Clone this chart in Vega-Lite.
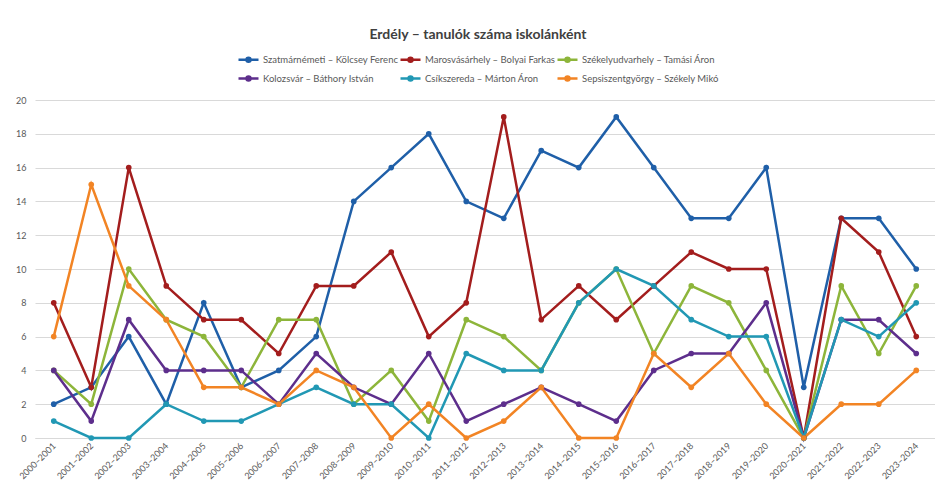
{
  "$schema": "https://vega.github.io/schema/vega-lite/v6.json",
  "autosize": {"type": "none"},
  "width": 900,
  "height": 338,
  "padding": {"left": 35, "top": 100, "right": 0, "bottom": 49},
  "background": "white",
  "config": {
    "font": "Lato",
    "view": {"stroke": null}
  },
  "title": {
    "text": "Erdély – tanulók száma iskolánként",
    "fontSize": 14,
    "fontWeight": "bold",
    "color": "#404040",
    "anchor": "middle",
    "frame": "group",
    "dx": -7,
    "offset": 6
  },
  "data": {
    "values": [
      {"t":"2000–2001","s":"Szatmárnémeti – Kölcsey Ferenc","n":2},
      {"t":"2001–2002","s":"Szatmárnémeti – Kölcsey Ferenc","n":3},
      {"t":"2002–2003","s":"Szatmárnémeti – Kölcsey Ferenc","n":6},
      {"t":"2003–2004","s":"Szatmárnémeti – Kölcsey Ferenc","n":2},
      {"t":"2004–2005","s":"Szatmárnémeti – Kölcsey Ferenc","n":8},
      {"t":"2005–2006","s":"Szatmárnémeti – Kölcsey Ferenc","n":3},
      {"t":"2006–2007","s":"Szatmárnémeti – Kölcsey Ferenc","n":4},
      {"t":"2007–2008","s":"Szatmárnémeti – Kölcsey Ferenc","n":6},
      {"t":"2008–2009","s":"Szatmárnémeti – Kölcsey Ferenc","n":14},
      {"t":"2009–2010","s":"Szatmárnémeti – Kölcsey Ferenc","n":16},
      {"t":"2010–2011","s":"Szatmárnémeti – Kölcsey Ferenc","n":18},
      {"t":"2011–2012","s":"Szatmárnémeti – Kölcsey Ferenc","n":14},
      {"t":"2012–2013","s":"Szatmárnémeti – Kölcsey Ferenc","n":13},
      {"t":"2013–2014","s":"Szatmárnémeti – Kölcsey Ferenc","n":17},
      {"t":"2014–2015","s":"Szatmárnémeti – Kölcsey Ferenc","n":16},
      {"t":"2015–2016","s":"Szatmárnémeti – Kölcsey Ferenc","n":19},
      {"t":"2016–2017","s":"Szatmárnémeti – Kölcsey Ferenc","n":16},
      {"t":"2017–2018","s":"Szatmárnémeti – Kölcsey Ferenc","n":13},
      {"t":"2018–2019","s":"Szatmárnémeti – Kölcsey Ferenc","n":13},
      {"t":"2019–2020","s":"Szatmárnémeti – Kölcsey Ferenc","n":16},
      {"t":"2020–2021","s":"Szatmárnémeti – Kölcsey Ferenc","n":3},
      {"t":"2021–2022","s":"Szatmárnémeti – Kölcsey Ferenc","n":13},
      {"t":"2022–2023","s":"Szatmárnémeti – Kölcsey Ferenc","n":13},
      {"t":"2023–2024","s":"Szatmárnémeti – Kölcsey Ferenc","n":10},

      {"t":"2000–2001","s":"Marosvásárhely – Bolyai Farkas","n":8},
      {"t":"2001–2002","s":"Marosvásárhely – Bolyai Farkas","n":3},
      {"t":"2002–2003","s":"Marosvásárhely – Bolyai Farkas","n":16},
      {"t":"2003–2004","s":"Marosvásárhely – Bolyai Farkas","n":9},
      {"t":"2004–2005","s":"Marosvásárhely – Bolyai Farkas","n":7},
      {"t":"2005–2006","s":"Marosvásárhely – Bolyai Farkas","n":7},
      {"t":"2006–2007","s":"Marosvásárhely – Bolyai Farkas","n":5},
      {"t":"2007–2008","s":"Marosvásárhely – Bolyai Farkas","n":9},
      {"t":"2008–2009","s":"Marosvásárhely – Bolyai Farkas","n":9},
      {"t":"2009–2010","s":"Marosvásárhely – Bolyai Farkas","n":11},
      {"t":"2010–2011","s":"Marosvásárhely – Bolyai Farkas","n":6},
      {"t":"2011–2012","s":"Marosvásárhely – Bolyai Farkas","n":8},
      {"t":"2012–2013","s":"Marosvásárhely – Bolyai Farkas","n":19},
      {"t":"2013–2014","s":"Marosvásárhely – Bolyai Farkas","n":7},
      {"t":"2014–2015","s":"Marosvásárhely – Bolyai Farkas","n":9},
      {"t":"2015–2016","s":"Marosvásárhely – Bolyai Farkas","n":7},
      {"t":"2016–2017","s":"Marosvásárhely – Bolyai Farkas","n":9},
      {"t":"2017–2018","s":"Marosvásárhely – Bolyai Farkas","n":11},
      {"t":"2018–2019","s":"Marosvásárhely – Bolyai Farkas","n":10},
      {"t":"2019–2020","s":"Marosvásárhely – Bolyai Farkas","n":10},
      {"t":"2020–2021","s":"Marosvásárhely – Bolyai Farkas","n":0},
      {"t":"2021–2022","s":"Marosvásárhely – Bolyai Farkas","n":13},
      {"t":"2022–2023","s":"Marosvásárhely – Bolyai Farkas","n":11},
      {"t":"2023–2024","s":"Marosvásárhely – Bolyai Farkas","n":6},

      {"t":"2000–2001","s":"Székelyudvarhely – Tamási Áron","n":4},
      {"t":"2001–2002","s":"Székelyudvarhely – Tamási Áron","n":2},
      {"t":"2002–2003","s":"Székelyudvarhely – Tamási Áron","n":10},
      {"t":"2003–2004","s":"Székelyudvarhely – Tamási Áron","n":7},
      {"t":"2004–2005","s":"Székelyudvarhely – Tamási Áron","n":6},
      {"t":"2005–2006","s":"Székelyudvarhely – Tamási Áron","n":3},
      {"t":"2006–2007","s":"Székelyudvarhely – Tamási Áron","n":7},
      {"t":"2007–2008","s":"Székelyudvarhely – Tamási Áron","n":7},
      {"t":"2008–2009","s":"Székelyudvarhely – Tamási Áron","n":2},
      {"t":"2009–2010","s":"Székelyudvarhely – Tamási Áron","n":4},
      {"t":"2010–2011","s":"Székelyudvarhely – Tamási Áron","n":1},
      {"t":"2011–2012","s":"Székelyudvarhely – Tamási Áron","n":7},
      {"t":"2012–2013","s":"Székelyudvarhely – Tamási Áron","n":6},
      {"t":"2013–2014","s":"Székelyudvarhely – Tamási Áron","n":4},
      {"t":"2014–2015","s":"Székelyudvarhely – Tamási Áron","n":8},
      {"t":"2015–2016","s":"Székelyudvarhely – Tamási Áron","n":10},
      {"t":"2016–2017","s":"Székelyudvarhely – Tamási Áron","n":5},
      {"t":"2017–2018","s":"Székelyudvarhely – Tamási Áron","n":9},
      {"t":"2018–2019","s":"Székelyudvarhely – Tamási Áron","n":8},
      {"t":"2019–2020","s":"Székelyudvarhely – Tamási Áron","n":4},
      {"t":"2020–2021","s":"Székelyudvarhely – Tamási Áron","n":0},
      {"t":"2021–2022","s":"Székelyudvarhely – Tamási Áron","n":9},
      {"t":"2022–2023","s":"Székelyudvarhely – Tamási Áron","n":5},
      {"t":"2023–2024","s":"Székelyudvarhely – Tamási Áron","n":9},

      {"t":"2000–2001","s":"Kolozsvár – Báthory István","n":4},
      {"t":"2001–2002","s":"Kolozsvár – Báthory István","n":1},
      {"t":"2002–2003","s":"Kolozsvár – Báthory István","n":7},
      {"t":"2003–2004","s":"Kolozsvár – Báthory István","n":4},
      {"t":"2004–2005","s":"Kolozsvár – Báthory István","n":4},
      {"t":"2005–2006","s":"Kolozsvár – Báthory István","n":4},
      {"t":"2006–2007","s":"Kolozsvár – Báthory István","n":2},
      {"t":"2007–2008","s":"Kolozsvár – Báthory István","n":5},
      {"t":"2008–2009","s":"Kolozsvár – Báthory István","n":3},
      {"t":"2009–2010","s":"Kolozsvár – Báthory István","n":2},
      {"t":"2010–2011","s":"Kolozsvár – Báthory István","n":5},
      {"t":"2011–2012","s":"Kolozsvár – Báthory István","n":1},
      {"t":"2012–2013","s":"Kolozsvár – Báthory István","n":2},
      {"t":"2013–2014","s":"Kolozsvár – Báthory István","n":3},
      {"t":"2014–2015","s":"Kolozsvár – Báthory István","n":2},
      {"t":"2015–2016","s":"Kolozsvár – Báthory István","n":1},
      {"t":"2016–2017","s":"Kolozsvár – Báthory István","n":4},
      {"t":"2017–2018","s":"Kolozsvár – Báthory István","n":5},
      {"t":"2018–2019","s":"Kolozsvár – Báthory István","n":5},
      {"t":"2019–2020","s":"Kolozsvár – Báthory István","n":8},
      {"t":"2020–2021","s":"Kolozsvár – Báthory István","n":0},
      {"t":"2021–2022","s":"Kolozsvár – Báthory István","n":7},
      {"t":"2022–2023","s":"Kolozsvár – Báthory István","n":7},
      {"t":"2023–2024","s":"Kolozsvár – Báthory István","n":5},

      {"t":"2000–2001","s":"Csíkszereda – Márton Áron","n":1},
      {"t":"2001–2002","s":"Csíkszereda – Márton Áron","n":0},
      {"t":"2002–2003","s":"Csíkszereda – Márton Áron","n":0},
      {"t":"2003–2004","s":"Csíkszereda – Márton Áron","n":2},
      {"t":"2004–2005","s":"Csíkszereda – Márton Áron","n":1},
      {"t":"2005–2006","s":"Csíkszereda – Márton Áron","n":1},
      {"t":"2006–2007","s":"Csíkszereda – Márton Áron","n":2},
      {"t":"2007–2008","s":"Csíkszereda – Márton Áron","n":3},
      {"t":"2008–2009","s":"Csíkszereda – Márton Áron","n":2},
      {"t":"2009–2010","s":"Csíkszereda – Márton Áron","n":2},
      {"t":"2010–2011","s":"Csíkszereda – Márton Áron","n":0},
      {"t":"2011–2012","s":"Csíkszereda – Márton Áron","n":5},
      {"t":"2012–2013","s":"Csíkszereda – Márton Áron","n":4},
      {"t":"2013–2014","s":"Csíkszereda – Márton Áron","n":4},
      {"t":"2014–2015","s":"Csíkszereda – Márton Áron","n":8},
      {"t":"2015–2016","s":"Csíkszereda – Márton Áron","n":10},
      {"t":"2016–2017","s":"Csíkszereda – Márton Áron","n":9},
      {"t":"2017–2018","s":"Csíkszereda – Márton Áron","n":7},
      {"t":"2018–2019","s":"Csíkszereda – Márton Áron","n":6},
      {"t":"2019–2020","s":"Csíkszereda – Márton Áron","n":6},
      {"t":"2020–2021","s":"Csíkszereda – Márton Áron","n":0},
      {"t":"2021–2022","s":"Csíkszereda – Márton Áron","n":7},
      {"t":"2022–2023","s":"Csíkszereda – Márton Áron","n":6},
      {"t":"2023–2024","s":"Csíkszereda – Márton Áron","n":8},

      {"t":"2000–2001","s":"Sepsiszentgyörgy – Székely Mikó","n":6},
      {"t":"2001–2002","s":"Sepsiszentgyörgy – Székely Mikó","n":15},
      {"t":"2002–2003","s":"Sepsiszentgyörgy – Székely Mikó","n":9},
      {"t":"2003–2004","s":"Sepsiszentgyörgy – Székely Mikó","n":7},
      {"t":"2004–2005","s":"Sepsiszentgyörgy – Székely Mikó","n":3},
      {"t":"2005–2006","s":"Sepsiszentgyörgy – Székely Mikó","n":3},
      {"t":"2006–2007","s":"Sepsiszentgyörgy – Székely Mikó","n":2},
      {"t":"2007–2008","s":"Sepsiszentgyörgy – Székely Mikó","n":4},
      {"t":"2008–2009","s":"Sepsiszentgyörgy – Székely Mikó","n":3},
      {"t":"2009–2010","s":"Sepsiszentgyörgy – Székely Mikó","n":0},
      {"t":"2010–2011","s":"Sepsiszentgyörgy – Székely Mikó","n":2},
      {"t":"2011–2012","s":"Sepsiszentgyörgy – Székely Mikó","n":0},
      {"t":"2012–2013","s":"Sepsiszentgyörgy – Székely Mikó","n":1},
      {"t":"2013–2014","s":"Sepsiszentgyörgy – Székely Mikó","n":3},
      {"t":"2014–2015","s":"Sepsiszentgyörgy – Székely Mikó","n":0},
      {"t":"2015–2016","s":"Sepsiszentgyörgy – Székely Mikó","n":0},
      {"t":"2016–2017","s":"Sepsiszentgyörgy – Székely Mikó","n":5},
      {"t":"2017–2018","s":"Sepsiszentgyörgy – Székely Mikó","n":3},
      {"t":"2018–2019","s":"Sepsiszentgyörgy – Székely Mikó","n":5},
      {"t":"2019–2020","s":"Sepsiszentgyörgy – Székely Mikó","n":2},
      {"t":"2020–2021","s":"Sepsiszentgyörgy – Székely Mikó","n":0},
      {"t":"2021–2022","s":"Sepsiszentgyörgy – Székely Mikó","n":2},
      {"t":"2022–2023","s":"Sepsiszentgyörgy – Székely Mikó","n":2},
      {"t":"2023–2024","s":"Sepsiszentgyörgy – Székely Mikó","n":4}
    ]
  },
  "mark": {
    "type": "line",
    "strokeWidth": 2.5,
    "point": {"filled": true, "size": 32, "opacity": 1}
  },
  "encoding": {
    "x": {
      "field": "t",
      "type": "ordinal",
      "sort": null,
      "scale": {"type": "point", "padding": 0.5},
      "axis": {
        "title": null,
        "labelAngle": -45,
        "labelAlign": "right",
        "labelBaseline": "middle",
        "labelFontSize": 9,
        "labelColor": "#595959",
        "labelPadding": 6,
        "ticks": false,
        "domain": true,
        "domainColor": "#d9d9d9",
        "grid": false
      }
    },
    "y": {
      "field": "n",
      "type": "quantitative",
      "scale": {"domain": [0, 20], "nice": false},
      "axis": {
        "title": null,
        "values": [0, 2, 4, 6, 8, 10, 12, 14, 16, 18, 20],
        "labelFontSize": 9,
        "labelColor": "#595959",
        "labelPadding": 9,
        "ticks": false,
        "domain": false,
        "grid": true,
        "gridColor": "#d9d9d9",
        "gridWidth": 1
      }
    },
    "color": {
      "field": "s",
      "type": "nominal",
      "sort": null,
      "scale": {
        "domain": [
          "Szatmárnémeti – Kölcsey Ferenc",
          "Marosvásárhely – Bolyai Farkas",
          "Székelyudvarhely – Tamási Áron",
          "Kolozsvár – Báthory István",
          "Csíkszereda – Márton Áron",
          "Sepsiszentgyörgy – Székely Mikó"
        ],
        "range": ["#1f5fa8", "#a31d1d", "#8db53a", "#5d2e8c", "#2198b4", "#f28424"]
      },
      "legend": {
        "title": null,
        "orient": "none",
        "legendX": 202,
        "legendY": -52,
        "direction": "horizontal",
        "columns": 3,
        "columnPadding": -6,
        "rowPadding": 0,
        "labelFontSize": 9.5,
        "labelColor": "#595959",
        "labelOffset": 3,
        "symbolType": "M-1,0H1M-0.2,0a0.2,0.2 0 1,0 0.4,0a0.2,0.2 0 1,0 -0.4,0",
        "symbolSize": 400,
        "symbolStrokeWidth": 2.5,
        "symbolFillColor": "transparent"
      }
    }
  }
}
